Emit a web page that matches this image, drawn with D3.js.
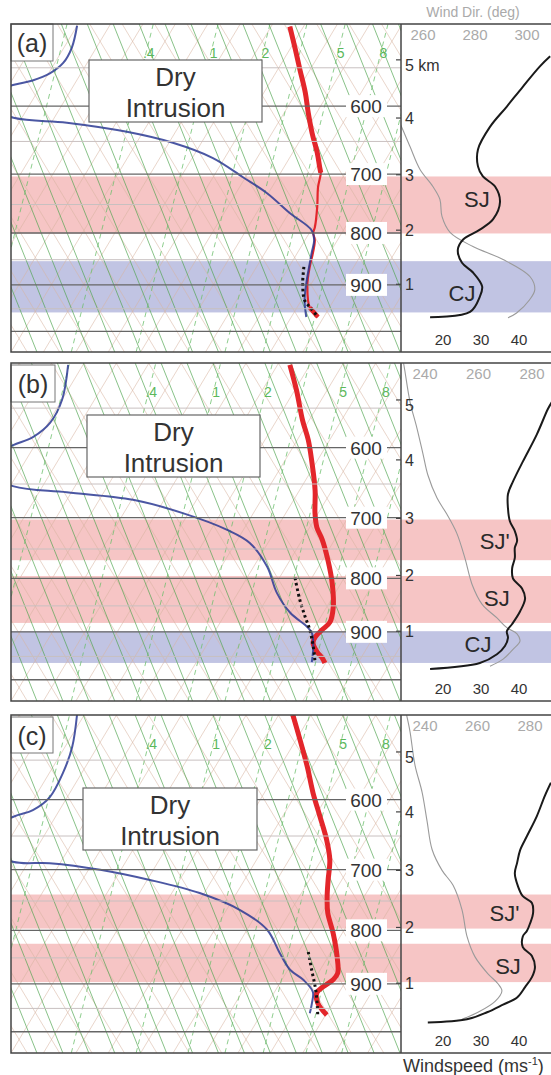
<!DOCTYPE html>
<html>
<head>
<meta charset="utf-8">
<script src="https://cdn.jsdelivr.net/npm/d3@7"></script>
<style>
  body { margin: 0; background: #fff; }
  text { font-family: "Liberation Sans", Arial, sans-serif; }
</style>
</head>
<body>
<svg id="fig" width="551" height="1075"></svg>
<script>
// ---- data ----
// skew-T profiles: [pressure hPa, temperature degC]
var tempA = [[501,-27.1],[528,-24.1],[553,-21.5],[582,-18.6],[609,-16.3],[638,-13.8],[667,-11.2],[689,-9.5],[698,-8.8],[721,-7.9],[754,-6.2],[789,-4.7],[800,-4.4],[813,-3.5],[837,-2.6],[864,-1.8],[900,-0.5],[948,2.0],[968,4.1]];
var dewA = [[500,-60],[525,-58.8],[544,-58.7],[557,-59.8],[566,-61.8],[572,-64.4],[592,-69.6],[616,-61.3],[623,-52.6],[636,-42.5],[652,-34.4],[675,-26.8],[705,-20.4],[731,-15.2],[765,-9.8],[795,-4.9],[813,-3.6],[837,-2.8],[864,-1.9],[900,-0.7],[932,0.5],[968,2.3]];
var dotA = [[864,-2.7],[896,-1.4],[932,0.5],[948,2.1],[966,3.9]];

var tempB = [[500,-28.1],[529,-24.7],[565,-21.0],[590,-18.3],[617,-15.9],[659,-12.6],[693,-10.5],[715,-8.9],[735,-6.9],[768,-4.2],[808,-1.4],[852,1.0],[881,1.9],[896,1.4],[910,1.0],[922,1.2],[941,2.7],[953,4.0],[964,4.9]];
var dewB = [[500,-62.3],[540,-60],[568,-59.7],[586,-61],[597,-63.4],[623,-68.2],[653,-59.6],[662,-50.7],[673,-39.8],[693,-30.9],[719,-22.5],[740,-17.8],[780,-12.9],[826,-9.0],[863,-5.1],[890,-1.2],[902,0.1],[930,1.6],[962,2.8]];
var dotB = [[799,-7.6],[839,-4.8],[871,-2.4],[896,-0.5],[930,1.6],[962,3.3]];

var tempC = [[498,-27.8],[526,-24.4],[558,-20.8],[591,-17.5],[623,-14.2],[656,-11.0],[685,-8.7],[716,-7.1],[743,-5.7],[770,-4.1],[805,-1.4],[848,1.4],[879,3.0],[892,2.9],[906,2.0],[918,1.6],[939,2.7],[964,5.2]];
var dewC = [[498,-61.1],[534,-58.9],[566,-57.9],[597,-57.7],[614,-59.1],[623,-61.5],[656,-66],[688,-57.4],[690,-51.6],[700,-43.2],[716,-34.6],[737,-25.7],[765,-17.9],[799,-11.9],[841,-7.8],[873,-4.6],[892,-1.7],[916,0.9],[939,1.8],[960,2.4]];
var dotC = [[839,-3.5],[873,-1.3],[906,0.8],[933,2.3],[964,3.8]];

// wind profiles: [height km, windspeed m/s] and [height km, direction deg]
var speedA = [[0.38,16.6],[0.48,27.1],[0.77,29.7],[0.96,30.3],[1.22,27.9],[1.40,25.0],[1.64,23.9],[1.83,25.3],[2.01,29.7],[2.20,33.2],[2.51,35.0],[2.79,33.7],[2.97,30.5],[3.15,29.2],[3.45,29.2],[3.85,32.4],[4.2,36.8],[4.54,41.0],[4.89,45.5],[5.06,48.2]];
var dirA = [[4.1,249],[3.92,251],[3.5,255],[3.1,258.8],[2.79,263.8],[2.56,266.5],[2.25,267.3],[1.96,270.4],[1.70,279.2],[1.46,290.8],[1.14,301.2],[0.9,303],[0.71,301],[0.46,296],[0.37,292.7]];
var speedB = [[0.31,16.6],[0.42,29.7],[0.58,34.2],[0.73,36.3],[0.88,37.1],[1.0,36.8],[1.13,38.2],[1.36,40.3],[1.59,41.6],[1.77,40.8],[1.95,38.4],[2.13,38.2],[2.31,38.9],[2.49,38.9],[2.61,39.5],[2.78,38.9],[2.95,37.6],[3.17,37.1],[3.42,37.1],[3.63,38.4],[3.97,41.0],[4.43,44.7],[4.85,47.6],[4.97,48.7]];
var dirB = [[5.6,232],[5.47,232.5],[4.97,234.4],[4.53,237],[4.09,239.3],[3.74,241.1],[3.35,244.5],[3.07,248.2],[2.74,251.9],[2.31,254.9],[1.84,257.6],[1.49,261.3],[1.24,266.9],[1.06,270.7],[0.95,274.4],[0.82,275.5],[0.67,272.9],[0.49,269.2],[0.36,264.3]];
var speedC = [[0.28,16],[0.34,26.3],[0.47,31.6],[0.61,35.8],[0.74,39.5],[0.93,41.6],[1.11,43.4],[1.29,44.2],[1.49,43.4],[1.65,41.0],[1.84,41.0],[1.94,42.1],[2.07,42.9],[2.25,43.7],[2.43,43.4],[2.55,41.0],[2.73,39.7],[2.95,38.9],[3.13,39.5],[3.35,40.3],[3.59,42.1],[3.93,44.7],[4.27,46.8],[4.49,48.4]];
var dirC = [[5.6,233],[5.33,234.3],[4.78,236.2],[4.33,238.9],[3.84,240.8],[3.36,242.7],[3.0,246.5],[2.74,250.7],[2.31,254.1],[1.84,256],[1.48,259],[1.17,264],[0.99,267.8],[0.86,269.3],[0.67,266.7],[0.47,260.2],[0.34,254.1]];

// jet layers [top km, bottom km, kind]
var bandsA = [[2.97,1.94,"sj"],[1.43,0.47,"cj"]];
var bandsB = [[2.98,2.27,"sj"],[1.99,1.15,"sj"],[1.0,0.42,"cj"]];
var bandsC = [[2.58,1.98,"sj"],[1.71,1.02,"sj"]];
// jet labels [text, km, m/s]
var jetsA = [["SJ",2.56,28.9],["CJ",0.84,25]];
var jetsB = [["SJ'",2.6,33.6],["SJ",1.59,34.2],["CJ",0.77,29.2]];
var jetsC = [["SJ'",2.25,36.2],["SJ",1.31,37.1]];

var pressureLines = [550,600,650,700,750,800,850,900,950,1000];
var pressureLabels = [600,700,800,900];
var kmTicks = [1,2,3,4,5];
var speedTicks = [20,30,40];
var dirTicksA = [260,280,300];
var dirTicksBC = [240,260,280];
var mixLabels = [".4","1","2","5","8"];
var mixLabelT = [-30.7,-20.7,-12.7,-1.1,5.5];
var mixOtherT = [-44,-7,11];
var isotherms = d3.range(-75,25,5);
var dryAdiabats = d3.range(-42.5,55,5);
var moistAdiabats = d3.range(-40,46,4);

// ---- layout ----
var left = 11, split = 401, right = 551, W = 389;
var SKEW = 0.6;
var panels = [
  {name:"(a)", top:24, bottom:352, temp:tempA, dew:dewA, dot:dotA, speed:speedA, dir:dirA,
   dirTicks:dirTicksA, dirRange:[423,527], bands:bandsA, jets:jetsA, thin:[700,945],
   tag:[11,0,42,37], box:[89,36,173,62]},
  {name:"(b)", top:363, bottom:701, temp:tempB, dew:dewB, dot:dotB, speed:speedB, dir:dirB,
   dirTicks:dirTicksBC, dirRange:[425,532], bands:bandsB, jets:jetsB, thin:null,
   tag:[11,2,44,37], box:[87,52,173,62]},
  {name:"(c)", top:715, bottom:1053, temp:tempC, dew:dewC, dot:dotC, speed:speedC, dir:dirC,
   dirTicks:dirTicksBC, dirRange:[425,530], bands:bandsC, jets:jetsC, thin:null,
   tag:[11,2,42,36], box:[83,73,174,62]}
];

var svg = d3.select("#fig");
var speedX = d3.scaleLinear().domain([20,40]).range([443,519]);

function stdP(z) { return 1013.25 * Math.pow(1 - 0.0225577 * z, 5.25588); }

panels.forEach(function(p, i) {
  var H = p.bottom - p.top;
  var g = svg.append("g").attr("transform", "translate(0," + p.top + ")");
  var y = d3.scaleLog().domain([498,1048]).range([0,H]);
  var xT = d3.scaleLinear().domain([-40,20]).range([left, left + W]);
  var dirX = d3.scaleLinear().domain([p.dirTicks[0], p.dirTicks[2]]).range(p.dirRange);
  var yz = function(z) { return y(stdP(z)); };
  var sx = function(T, yy) { return xT(T) + SKEW * (H - yy); };

  var defs = g.append("defs");
  defs.append("clipPath").attr("id", "sk" + i).append("rect")
    .attr("x", left).attr("y", 0).attr("width", split - left).attr("height", H);
  defs.append("clipPath").attr("id", "wd" + i).append("rect")
    .attr("x", split).attr("y", 0).attr("width", right - split).attr("height", H);

  // jet layer shading
  g.selectAll(".band").data(p.bands).enter().append("rect")
    .attr("x", left).attr("width", right - left)
    .attr("y", function(d) { return yz(d[0]); })
    .attr("height", function(d) { return yz(d[1]) - yz(d[0]); })
    .attr("fill", function(d) { return d[2] === "sj" ? "#ee8c8c" : "#8489c8"; })
    .attr("opacity", 0.5);

  var sk = g.append("g").attr("clip-path", "url(#sk" + i + ")");

  function family(vals, slope, color, width, dash, op) {
    sk.selectAll(null).data(vals).enter().append("line")
      .attr("x1", function(d) { return xT(d); }).attr("y1", H)
      .attr("x2", function(d) { return xT(d) + slope * H; }).attr("y2", 0)
      .attr("stroke", color).attr("stroke-width", width)
      .attr("stroke-dasharray", dash).attr("opacity", op);
  }
  family(isotherms, SKEW, "#d8b4a0", 0.9, null, 0.6);
  family(dryAdiabats, -SKEW, "#d8b4a0", 0.9, null, 0.6);
  family(moistAdiabats, -0.4, "#4fa54f", 0.9, null, 0.75);
  family(mixLabelT.concat(mixOtherT), 0.25, "#6cbf6c", 0.9, "5,4", 0.85);

  sk.selectAll(".mixlab").data(mixLabels).enter().append("text")
    .attr("x", function(d, j) { return xT(mixLabelT[j]) + 0.25 * (H - 30) + 3; })
    .attr("y", 34).attr("text-anchor", "middle")
    .attr("font-size", 14).attr("fill", "#5cb85c").text(function(d) { return d; });

  // pressure levels
  g.selectAll(".plev").data(pressureLines).enter().append("line")
    .attr("x1", left).attr("x2", split)
    .attr("y1", function(d) { return y(d); }).attr("y2", function(d) { return y(d); })
    .attr("stroke", function(d) { return d % 100 === 0 ? "#666" : "#c8c0c0"; })
    .attr("stroke-width", function(d) { return d % 100 === 0 ? 1.4 : 1; });

  // temperature
  var tl = d3.line().x(function(d) { return sx(d[1], y(d[0])); })
    .y(function(d) { return y(d[0]); }).curve(d3.curveCatmullRom);
  if (p.thin) {
    sk.append("path").attr("d", tl(p.temp)).attr("fill", "none")
      .attr("stroke", "#e3262b").attr("stroke-width", 2.2);
    sk.append("path").attr("d", tl(p.temp.filter(function(d) { return d[0] <= p.thin[0]; })))
      .attr("fill", "none").attr("stroke", "#e3262b").attr("stroke-width", 5);
    sk.append("path").attr("d", tl(p.temp.filter(function(d) { return d[0] >= p.thin[1]; })))
      .attr("fill", "none").attr("stroke", "#e3262b").attr("stroke-width", 4.5);
  } else {
    sk.append("path").attr("d", tl(p.temp)).attr("fill", "none")
      .attr("stroke", "#e3262b").attr("stroke-width", 5).attr("stroke-linejoin", "round");
  }
  // dewpoint
  sk.append("path").attr("d", tl(p.dew)).attr("fill", "none")
    .attr("stroke", "#2b3a93").attr("stroke-width", 2).attr("opacity", 0.85);
  // dotted profile
  sk.append("path").attr("d", tl(p.dot)).attr("fill", "none")
    .attr("stroke", "#111").attr("stroke-width", 3).attr("stroke-dasharray", "2.5,3");

  // pressure labels
  var pl = g.selectAll(".plab").data(pressureLabels).enter().append("g")
    .attr("transform", function(d) { return "translate(366," + y(d) + ")"; });
  pl.append("rect").attr("x", -20).attr("y", -11).attr("width", 41).attr("height", 22).attr("fill", "#fff");
  pl.append("text").attr("y", 7).attr("text-anchor", "middle")
    .attr("font-size", 19).attr("fill", "#333").text(function(d) { return d; });

  // panel tag and dry intrusion box
  g.append("rect").attr("x", p.tag[0]).attr("y", p.tag[1]).attr("width", p.tag[2]).attr("height", p.tag[3])
    .attr("fill", "#fff").attr("stroke", "#777").attr("stroke-width", 1);
  g.append("text").attr("x", p.tag[0] + p.tag[2] / 2).attr("y", p.tag[1] + 28)
    .attr("text-anchor", "middle").attr("font-size", 25).attr("fill", "#333").text(p.name);
  g.append("rect").attr("x", p.box[0]).attr("y", p.box[1]).attr("width", p.box[2]).attr("height", p.box[3])
    .attr("fill", "#fff").attr("stroke", "#666").attr("stroke-width", 1.2);
  g.append("text").attr("x", p.box[0] + p.box[2] / 2).attr("y", p.box[1] + 26)
    .attr("text-anchor", "middle").attr("font-size", 26).attr("fill", "#333").text("Dry");
  g.append("text").attr("x", p.box[0] + p.box[2] / 2).attr("y", p.box[1] + 57)
    .attr("text-anchor", "middle").attr("font-size", 26).attr("fill", "#333").text("Intrusion");

  // wind panel
  var wd = g.append("g").attr("clip-path", "url(#wd" + i + ")");
  var dl = d3.line().x(function(d) { return dirX(d[1]); }).y(function(d) { return yz(d[0]); })
    .curve(d3.curveCatmullRom);
  var spl = d3.line().x(function(d) { return speedX(d[1]); }).y(function(d) { return yz(d[0]); })
    .curve(d3.curveCatmullRom);
  wd.append("path").attr("d", dl(p.dir)).attr("fill", "none").attr("stroke", "#9a9a9a").attr("stroke-width", 1.1);
  wd.append("path").attr("d", spl(p.speed)).attr("fill", "none").attr("stroke", "#1a1a1a").attr("stroke-width", 2);

  g.selectAll(".jet").data(p.jets).enter().append("text")
    .attr("x", function(d) { return speedX(d[2]); })
    .attr("y", function(d) { return yz(d[1]) + 8; })
    .attr("text-anchor", "middle").attr("font-size", 22).attr("fill", "#2a2a2a")
    .text(function(d) { return d[0]; });

  g.selectAll(".dirlab").data(p.dirTicks).enter().append("text")
    .attr("x", function(d) { return dirX(d); }).attr("y", 16)
    .attr("text-anchor", "middle").attr("font-size", 15).attr("fill", "#aaa")
    .text(function(d) { return d; });
  g.selectAll(".splab").data(speedTicks).enter().append("text")
    .attr("x", function(d) { return speedX(d); }).attr("y", H - 7)
    .attr("text-anchor", "middle").attr("font-size", 15).attr("fill", "#333")
    .text(function(d) { return d; });

  g.selectAll(".kmt").data(kmTicks).enter().append("line")
    .attr("x1", split - 5).attr("x2", split)
    .attr("y1", function(d) { return yz(d); }).attr("y2", function(d) { return yz(d); })
    .attr("stroke", "#444").attr("stroke-width", 1.2);
  g.selectAll(".kml").data(kmTicks).enter().append("text")
    .attr("x", split + 4)
    .attr("y", function(d) { return yz(d) + (d === 5 ? 11 : 6); })
    .attr("font-size", 16).attr("fill", "#333")
    .text(function(d) { return d === 5 && i === 0 ? "5 km" : d; });

  // frame
  g.append("line").attr("x1", split).attr("x2", split).attr("y1", 0).attr("y2", H)
    .attr("stroke", "#444").attr("stroke-width", 1.5);
  g.append("rect").attr("x", left).attr("y", 0).attr("width", right - left + 2).attr("height", H)
    .attr("fill", "none").attr("stroke", "#444").attr("stroke-width", 1.5);
});

svg.append("text").attr("x", 473).attr("y", 17).attr("text-anchor", "middle")
  .attr("font-size", 14).attr("fill", "#aaa").text("Wind Dir. (deg)");
var wt = svg.append("text").attr("x", 403).attr("y", 1072).attr("font-size", 18).attr("fill", "#333");
wt.append("tspan").text("Windspeed (ms");
wt.append("tspan").attr("font-size", 11).attr("dy", -7).text("-1");
wt.append("tspan").attr("dy", 7).text(")");
</script>
</body>
</html>
